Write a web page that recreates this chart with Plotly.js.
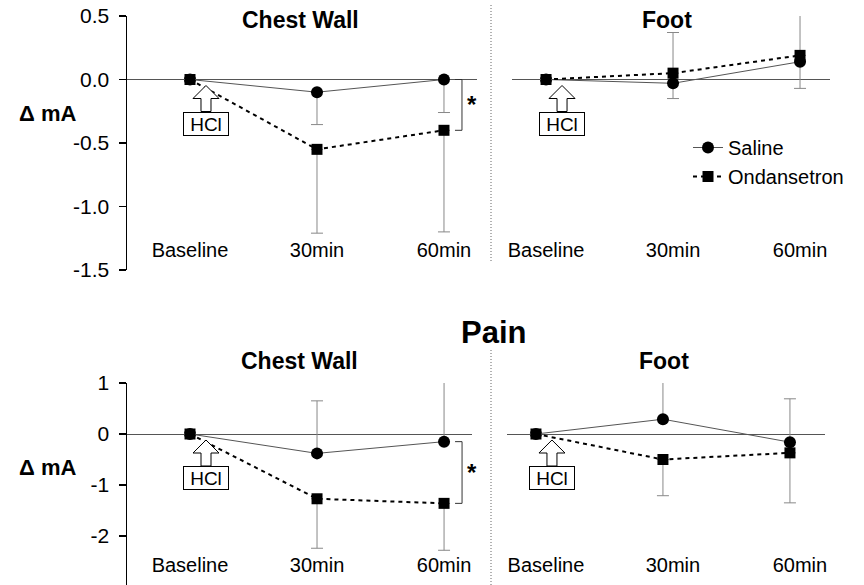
<!DOCTYPE html>
<html><head><meta charset="utf-8">
<script src="https://cdn.plot.ly/plotly-3.0.1.min.js"></script>
<style>html,body{margin:0;padding:0;background:#fff}#chart{width:864px;height:585px}</style>
</head><body><div id="chart"></div>
<script>
// ---- data ----
const timepoints = ['Baseline', '30min', '60min'];
// Top row — Chest Wall
const cwTopSaline = [0, -0.10, 0.00];
const cwTopSalineErrPlus = [0, 0, 0];
const cwTopSalineErrMinus = [0, 0.255, 0.26];
const cwTopOnd = [0, -0.55, -0.40];
const cwTopOndErrPlus = [0, 0, 0];
const cwTopOndErrMinus = [0, 0.66, 0.80];
// Top row — Foot
const ftTopSaline = [0, -0.03, 0.14];
const ftTopSalineErrPlus = [0, 0, 0];
const ftTopSalineErrMinus = [0, 0.12, 0.21];
const ftTopOnd = [0, 0.05, 0.19];
const ftTopOndErrPlus = [0, 0.32, 0.32];
const ftTopOndErrMinus = [0, 0, 0];
// Pain — Chest Wall
const cwPainSaline = [0, -0.38, -0.15];
const cwPainSalineErrPlus = [0, 1.03, 1.35];
const cwPainSalineErrMinus = [0, 0, 0];
const cwPainOnd = [0, -1.27, -1.36];
const cwPainOndErrPlus = [0, 0, 0];
const cwPainOndErrMinus = [0, 0.97, 0.92];
// Pain — Foot
const ftPainSaline = [0, 0.29, -0.16];
const ftPainSalineErrPlus = [0, 0.93, 0.85];
const ftPainSalineErrMinus = [0, 0, 0];
const ftPainOnd = [0, -0.50, -0.37];
const ftPainOndErrPlus = [0, 0, 0];
const ftPainOndErrMinus = [0, 0.71, 0.98];

const yTickValsTop = [0.5, 0, -0.5, -1, -1.5];
const yTickTextTop = ['0.5', '0.0', '-0.5', '-1.0', '-1.5'];
const yTickValsPain = [1, 0, -1, -2, -3];
const yTickTextPain = ['1', '0', '-1', '-2', '-3'];

const seriesNames = ['Saline', 'Ondansetron'];
const panelTitles = ['Chest Wall', 'Foot'];
const sectionTitle = 'Pain';
const yLabel = 'Δ mA';
const eventLabel = 'HCl';

// ---- traces ----
function saline(y, plus, minus, xa, ya, show) {
  return {type: 'scatter', mode: 'lines+markers', name: seriesNames[0], legendgroup: 's',
    x: timepoints, y: y, xaxis: xa, yaxis: ya, showlegend: show,
    line: {color: '#555', width: 1},
    marker: {symbol: 'circle', size: 12, color: '#000'},
    error_y: {type: 'data', symmetric: false, array: plus, arrayminus: minus,
      color: '#888', thickness: 1, width: 6}};
}
function ond(y, plus, minus, xa, ya, show) {
  return {type: 'scatter', mode: 'lines+markers', name: seriesNames[1], legendgroup: 'o',
    x: timepoints, y: y, xaxis: xa, yaxis: ya, showlegend: show,
    line: {color: '#000', width: 2, dash: '4px,4px'},
    marker: {symbol: 'square', size: 11, color: '#000'},
    error_y: {type: 'data', symmetric: false, array: plus, arrayminus: minus,
      color: '#888', thickness: 1, width: 6}};
}
const data = [
  saline(cwTopSaline, cwTopSalineErrPlus, cwTopSalineErrMinus, 'x', 'y', true),
  ond(cwTopOnd, cwTopOndErrPlus, cwTopOndErrMinus, 'x', 'y', true),
  saline(ftTopSaline, ftTopSalineErrPlus, ftTopSalineErrMinus, 'x2', 'y2', false),
  ond(ftTopOnd, ftTopOndErrPlus, ftTopOndErrMinus, 'x2', 'y2', false),
  saline(cwPainSaline, cwPainSalineErrPlus, cwPainSalineErrMinus, 'x3', 'y3', false),
  ond(cwPainOnd, cwPainOndErrPlus, cwPainOndErrMinus, 'x3', 'y3', false),
  saline(ftPainSaline, ftPainSalineErrPlus, ftPainSalineErrMinus, 'x4', 'y4', false),
  ond(ftPainOnd, ftPainOndErrPlus, ftPainOndErrMinus, 'x4', 'y4', false)
];

// ---- layout ----
const W = 864, H = 585;
const px = v => v / W;
const py = v => 1 - v / H;

function catAxis(domain, range, pos, shift) {
  return {type: 'category', domain: domain, range: range, anchor: 'free', position: pos,
    showline: false, ticks: '', showgrid: false, zeroline: false,
    tickfont: {size: 20}, ticklabelshift: shift || 0, fixedrange: true};
}
function valAxis(domain, range, anchor, tv, tt, visible, tfs) {
  return {domain: domain, range: range, anchor: anchor,
    tickvals: tv, ticktext: tt, showticklabels: visible,
    ticks: visible ? 'outside' : '', ticklen: 7, tickwidth: 1.5, tickcolor: '#000',
    showline: visible, linewidth: 1.5, linecolor: '#000', showgrid: false,
    zeroline: true, zerolinecolor: '#555', zerolinewidth: 1,
    tickfont: {size: tfs}, ticklabelstandoff: 5, fixedrange: true};
}

const topDom = [py(270), py(16)];
const painDom = [0, py(383)];
const painRange = [1 - 202 / 51, 1];

const layout = {
  width: W, height: H, margin: {l: 0, r: 0, t: 0, b: 0},
  paper_bgcolor: '#fff', plot_bgcolor: 'rgba(0,0,0,0)',
  font: {family: '"Liberation Sans", Arial, sans-serif', color: '#000', size: 20},
  showlegend: true,
  legend: {x: px(688), y: py(128), xanchor: 'left', yanchor: 'top',
    font: {size: 20}, bgcolor: 'rgba(0,0,0,0)', tracegroupgap: 0},
  xaxis: catAxis([px(127), px(477)], [-0.496, 2.26], py(236)),
  yaxis: valAxis(topDom, [-1.5, 0.5], 'x', yTickValsTop, yTickTextTop, true, 21),
  xaxis2: catAxis([px(512), px(830)], [-0.268, 2.236], py(236)),
  yaxis2: valAxis(topDom, [-1.5, 0.5], 'x2', yTickValsTop, yTickTextTop, false, 21),
  xaxis3: catAxis([px(127), px(472)], [-0.496, 2.22], py(551)),
  yaxis3: valAxis(painDom, painRange, 'x3', yTickValsPain, yTickTextPain, true, 21),
  xaxis4: catAxis([px(507), px(825)], [-0.228, 2.276], py(551), 10),
  yaxis4: valAxis(painDom, painRange, 'x4', yTickValsPain, yTickTextPain, false, 21),
  annotations: [],
  shapes: []
};

function title(text, x, y, size) {
  return {text: '<b>' + text + '</b>', xref: 'paper', yref: 'paper', x: px(x), y: py(y),
    xanchor: 'center', yanchor: 'middle', showarrow: false, font: {size: size}};
}
layout.annotations.push(
  title(panelTitles[0], 300, 20, 23),
  title(panelTitles[1], 667, 20, 23),
  title(sectionTitle, 493, 332, 31),
  title(panelTitles[0], 299, 361, 23),
  title(panelTitles[1], 664, 361, 23),
  title(yLabel, 47, 114, 22),
  title(yLabel, 47, 467, 22)
);

// HCl event markers at Baseline of each panel
const arrowPath = 'M16,-6 L29,-19 L21,-19 L21,-32 L11,-32 L11,-19 L3,-19 Z';
[['x', 'y'], ['x2', 'y2'], ['x3', 'y3'], ['x4', 'y4']].forEach(([xa, ya]) => {
  layout.shapes.push({type: 'path', xref: xa, yref: ya, xsizemode: 'pixel', ysizemode: 'pixel',
    xanchor: 0, yanchor: 0, path: arrowPath, fillcolor: '#fff', line: {color: '#000', width: 1}, layer: 'above'});
  layout.annotations.push({text: eventLabel, xref: xa, yref: ya, x: 0, y: 0, xshift: 16, yshift: -44,
    showarrow: false, bordercolor: '#000', borderwidth: 1, borderpad: 0, bgcolor: '#fff',
    width: 44, height: 22, font: {size: 19}});
});

// significance brackets at 60min of chest wall panels
function bracket(xa, ya, yA, yB) {
  layout.shapes.push({type: 'path', xref: xa, yref: ya, xsizemode: 'pixel', xanchor: 2,
    path: 'M11,' + yA + ' L18,' + yA + ' L18,' + yB + ' L11,' + yB,
    line: {color: '#333', width: 1}});
  layout.annotations.push({text: '<b>*</b>', xref: xa, yref: ya, x: 2, y: (yA + yB) / 2,
    xshift: 28, yshift: 0, showarrow: false, font: {size: 24}});
}
bracket('x', 'y', cwTopSaline[2], cwTopOnd[2]);
bracket('x3', 'y3', cwPainSaline[2], cwPainOnd[2]);

// dotted separators
layout.shapes.push(
  {type: 'line', xref: 'paper', yref: 'paper', x0: px(491), x1: px(491), y0: py(5), y1: py(262),
    line: {color: '#666', width: 1, dash: '1px,2px'}},
  {type: 'line', xref: 'paper', yref: 'paper', x0: px(491), x1: px(491), y0: py(350), y1: 0,
    line: {color: '#666', width: 1, dash: '1px,2px'}}
);

Plotly.newPlot('chart', data, layout, {displayModeBar: false, staticPlot: true});
</script>
</body></html>
